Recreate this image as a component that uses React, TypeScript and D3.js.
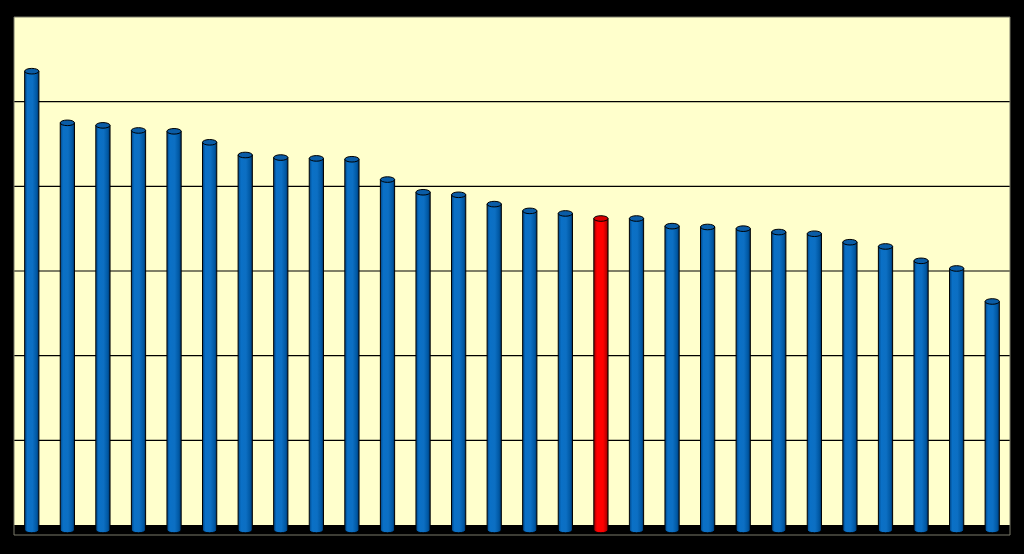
import React, { useRef, useEffect } from "react";
import * as d3 from "d3";

// one value per bar (gridline every 1 unit)
const categories = d3.range(1, 29).map((i) => `C${i}`);
const values = [
  5.36, 4.75, 4.72, 4.66, 4.65, 4.52, 4.37, 4.34, 4.33, 4.32, 4.08, 3.93, 3.9,
  3.79, 3.71, 3.68, 3.62, 3.62, 3.53, 3.52, 3.5, 3.46, 3.44, 3.34, 3.29, 3.12,
  3.03, 2.64,
];
const highlightIndex = 16;
const gridTicks = [1, 2, 3, 4, 5];

const WIDTH = 1024;
const HEIGHT = 554;

function drawChart(svgEl: SVGSVGElement) {
  const plot = { left: 14, right: 1010, top: 17, floor: 525, bottom: 535 };

  const svg = d3.select(svgEl);
  svg.selectAll("*").remove();

  const defs = svg.append("defs");
  const makeGrad = (id: string, stops: [number, string][]) => {
    const g = defs
      .append("linearGradient")
      .attr("id", id)
      .attr("x1", "0%")
      .attr("x2", "100%")
      .attr("y1", "0%")
      .attr("y2", "0%");
    stops.forEach(([o, c]) =>
      g.append("stop").attr("offset", `${o}%`).attr("stop-color", c)
    );
  };
  makeGrad("blueBody", [
    [0, "#004585"],
    [20, "#0a70c6"],
    [55, "#0c6fc3"],
    [85, "#0057a2"],
    [100, "#003266"],
  ]);
  makeGrad("redBody", [
    [0, "#900000"],
    [22, "#ff0000"],
    [65, "#ff0000"],
    [88, "#c00000"],
    [100, "#700000"],
  ]);

  svg
    .append("rect")
    .attr("width", WIDTH)
    .attr("height", HEIGHT)
    .attr("fill", "#000000");

  // plot area
  svg
    .append("rect")
    .attr("x", plot.left)
    .attr("y", plot.top)
    .attr("width", plot.right - plot.left)
    .attr("height", plot.floor - plot.top)
    .attr("fill", "#ffffcc");

  const y = d3.scaleLinear().domain([0, 6]).range([plot.floor, plot.top]);
  const x = d3
    .scaleBand()
    .domain(categories)
    .range([plot.left, plot.right])
    .paddingInner(0.6)
    .paddingOuter(0.3);

  svg
    .append("g")
    .selectAll("line")
    .data(gridTicks)
    .enter()
    .append("line")
    .attr("x1", plot.left)
    .attr("x2", plot.right)
    .attr("y1", (d) => y(d))
    .attr("y2", (d) => y(d))
    .attr("stroke", "#000")
    .attr("stroke-width", 1.2);

  // floor band
  svg
    .append("rect")
    .attr("x", plot.left)
    .attr("y", plot.floor)
    .attr("width", plot.right - plot.left)
    .attr("height", plot.bottom - plot.floor)
    .attr("fill", "#000");

  // plot frame
  svg
    .append("path")
    .attr(
      "d",
      `M${plot.left},${plot.top}H${plot.right}V${plot.bottom}H${plot.left}Z`
    )
    .attr("fill", "none")
    .attr("stroke", "#7a7a6a")
    .attr("stroke-width", 1);

  const bw = x.bandwidth();
  const rx = bw / 2;
  const ry = 2.8;
  const baseY = plot.floor + 5;

  const bars = svg
    .append("g")
    .selectAll("g")
    .data(values)
    .enter()
    .append("g");

  bars
    .append("path")
    .attr("d", (d, i) => {
      const x0 = x(categories[i]) as number;
      const top = y(d);
      return (
        `M${x0},${top}V${baseY}` +
        `A${rx},${ry} 0 0 0 ${x0 + bw},${baseY}` +
        `V${top}Z`
      );
    })
    .attr("fill", (_, i) =>
      i === highlightIndex ? "url(#redBody)" : "url(#blueBody)"
    )
    .attr("stroke", "#000")
    .attr("stroke-width", 1);

  bars
    .append("ellipse")
    .attr("cx", (_, i) => (x(categories[i]) as number) + rx)
    .attr("cy", (d) => y(d))
    .attr("rx", rx)
    .attr("ry", ry)
    .attr("fill", (_, i) => (i === highlightIndex ? "#d80000" : "#0a5ca6"))
    .attr("stroke", "#000")
    .attr("stroke-width", 1);
}

export default function App() {
  const ref = useRef<SVGSVGElement>(null);

  useEffect(() => {
    if (ref.current == null) return;
    drawChart(ref.current);
  }, []);

  return (
    <svg
      ref={ref}
      width={WIDTH}
      height={HEIGHT}
      style={{ position: "absolute", left: 0, top: 0, display: "block" }}
    />
  );
}
